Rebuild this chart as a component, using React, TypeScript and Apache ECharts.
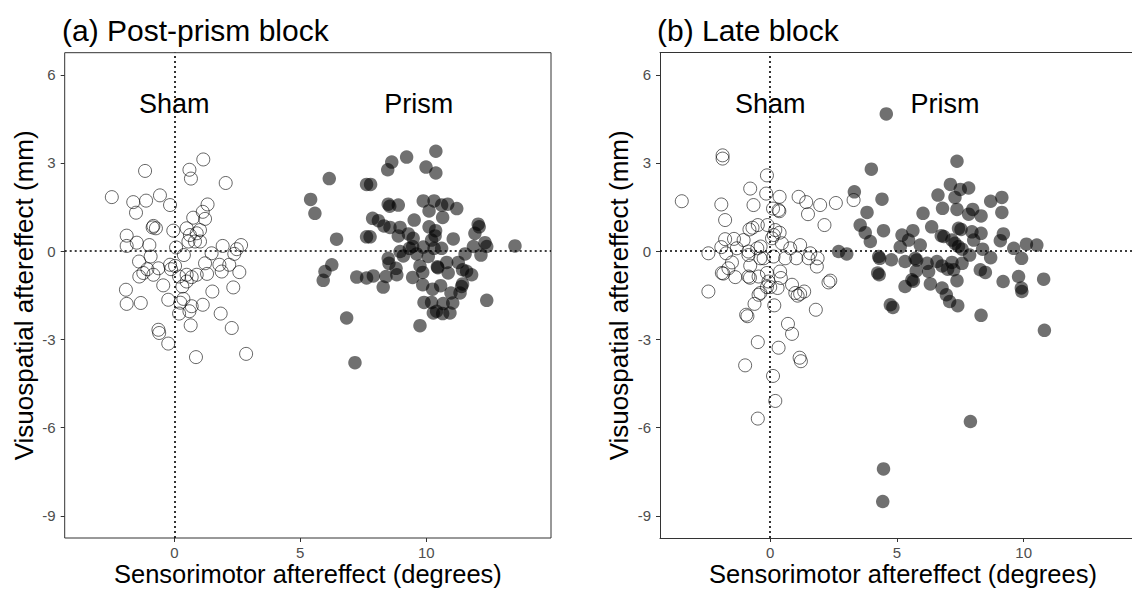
import React, { useEffect, useRef } from "react";
import * as echarts from "echarts";

const FONT = '"Liberation Sans", Arial, Helvetica, sans-serif';

// Panel (a) Post-prism block: [sensorimotor aftereffect (deg), visuospatial aftereffect (mm)]
const shamPost: [number, number][] = [
  [1.15, 3.12], [-1.16, 2.73], [0.6, 2.77], [0.66, 2.47], [2.04, 2.32], [-2.48, 1.84], [-1.63, 1.67],
  [-1.12, 1.72], [-0.57, 1.9], [-0.17, 1.57], [-1.52, 1.31], [1.32, 1.59], [1.13, 1.34], [0.75, 1.14],
  [1.22, 1.1], [-0.83, 0.86], [-0.73, 0.78], [-0.86, 0.81], [-0.04, 0.7], [0.49, 0.78], [1.02, 0.72],
  [0.62, 0.55], [0.89, 0.61], [0.56, 0.33], [0.82, 0.33], [1.02, 0.33], [-1.89, 0.53], [-1.89, 0.18],
  [-1.49, 0.29], [-0.99, 0.21], [0.07, 0.13], [0.38, -0.13], [1.48, -0.07], [1.92, 0.18], [2.65, 0.21],
  [2.48, 0.07], [2.38, -0.09], [-0.94, -0.18], [-1.4, -0.35], [-0.17, -0.46], [0.03, -0.5], [-0.13, -0.61],
  [-0.63, -0.58], [-1.07, -0.61], [-1.23, -0.74], [-1.39, -0.86], [-0.83, -0.8], [0.19, -0.86], [0.49, -0.8],
  [0.69, -0.88], [0.89, -0.8], [1.22, -0.41], [1.3, -0.77], [1.79, -0.46], [1.88, -0.69], [2.18, -0.46],
  [2.58, -0.71], [-0.44, -1.16], [0.32, -1.2], [0.49, -1.03], [-1.92, -1.31], [1.51, -1.37], [2.34, -1.23],
  [-0.24, -1.65], [0.36, -1.62], [0.24, -1.75], [0.69, -1.87], [0.6, -2.04], [-1.89, -1.79], [-1.33, -1.76],
  [1.13, -1.82], [0.19, -2.12], [1.84, -2.12], [0.65, -2.52], [2.28, -2.61], [-0.63, -2.67], [-0.6, -2.78],
  [-0.24, -3.14], [0.86, -3.6], [2.85, -3.49],
];

const prismPost: [number, number][] = [
  [10.38, 3.4], [9.22, 3.2], [8.63, 3.03], [8.47, 2.77], [9.99, 2.86], [10.38, 2.66], [6.15, 2.47],
  [7.63, 2.27], [7.79, 2.27], [5.41, 1.76], [5.58, 1.29], [8.49, 1.6], [8.55, 1.53], [8.89, 1.57],
  [9.88, 1.71], [10.31, 1.71], [10.61, 1.57], [10.85, 1.6], [11.21, 1.45], [10.11, 1.37], [10.65, 1.15],
  [9.52, 1.06], [7.87, 1.12], [8.1, 1.04], [8.32, 0.86], [8.56, 0.81], [8.96, 0.81], [10.11, 0.83],
  [10.37, 0.7], [12.06, 0.92], [12.1, 0.83], [11.93, 0.61], [7.63, 0.49], [7.77, 0.49], [6.44, 0.41],
  [8.89, 0.52], [9.29, 0.59], [9.48, 0.44], [10.21, 0.38], [10.35, 0.52], [11.07, 0.42], [12.33, 0.29],
  [12.4, 0.16], [12.17, -0.13], [11.87, 0.16], [11.54, -0.09], [13.52, 0.18], [8.96, -0.01], [9.33, 0.1],
  [9.46, 0.16], [9.09, -0.16], [9.62, -0.09], [9.88, 0.14], [10.08, -0.18], [10.31, 0.1], [10.61, 0.1],
  [8.49, -0.24], [8.52, -0.41], [8.8, -0.58], [8.83, -0.8], [6.25, -0.46], [5.98, -0.69], [5.91, -0.99],
  [7.24, -0.88], [7.63, -0.91], [7.9, -0.84], [8.4, -0.86], [8.29, -1.22], [9.46, -0.89], [9.75, -0.5],
  [9.86, -0.72], [10.44, -0.53], [10.46, -0.56], [10.81, -0.38], [10.87, -0.74], [11.27, -0.38], [11.44, -0.63],
  [11.6, -0.68], [11.8, -0.8], [11.44, -1.11], [11.4, -1.2], [11.34, -1.42], [9.86, -1.14], [10.25, -1.29],
  [10.57, -1.17], [10.98, -1.42], [12.4, -1.67], [9.91, -1.74], [10.21, -1.74], [10.67, -1.78], [11.05, -1.76],
  [10.28, -2.1], [10.65, -2.12], [10.94, -2.1], [10.41, -2.04], [9.75, -2.53], [6.84, -2.27], [7.17, -3.79],
];

// Panel (b) Late block
const shamLate: [number, number][] = [
  [-1.88, 3.26], [-1.88, 3.15], [-0.13, 2.58], [-0.79, 2.13], [-0.16, 1.96], [0.37, 1.85], [1.12, 1.85],
  [1.42, 1.67], [1.97, 1.57], [2.59, 1.64], [-3.49, 1.7], [-1.93, 1.59], [-0.66, 1.57], [0.11, 1.45],
  [0.33, 1.4], [0.36, 1.36], [1.49, 1.26], [-1.78, 1.06], [-0.11, 0.89], [-0.49, 0.89], [-0.82, 0.74],
  [-0.7, 0.8], [0.2, 0.72], [0.37, 0.63], [0.07, 0.44], [0.14, 0.55], [2.14, 0.89], [-1.78, 0.41],
  [-1.43, 0.42], [-1.05, 0.38], [-1.93, 0.14], [-1.74, -0.07], [-1.32, 0.1], [-0.86, -0.01], [-0.86, -0.13],
  [-0.51, 0.1], [-0.38, 0.16], [0.46, 0.27], [0.79, 0.1], [1.18, 0.21], [-2.44, -0.07], [-0.39, -0.24],
  [-0.26, -0.24], [0.13, -0.18], [0.59, -0.24], [1.03, -0.24], [1.58, -0.07], [1.51, -0.24], [1.87, -0.24],
  [1.84, -0.52], [-1.51, -0.38], [-1.65, -0.58], [-1.91, -0.74], [-1.85, -0.76], [-1.38, -0.88], [-0.79, -0.49],
  [-0.86, -0.86], [-0.8, -0.9], [-0.46, -0.86], [-0.13, -0.74], [0.39, -0.69], [0.42, -0.91], [-0.07, -1.03],
  [0, -1.22], [-0.13, -1.22], [0.29, -1.25], [-0.39, -1.42], [-0.46, -1.48], [0.86, -1.14], [0.99, -1.42],
  [1.18, -1.45], [1.34, -1.37], [1.08, -1.51], [2.37, -1.0], [2.3, -1.06], [-2.44, -1.37], [-0.62, -1.79],
  [0.16, -1.84], [1.8, -1.99], [-0.95, -2.16], [-0.9, -2.21], [0.7, -2.47], [0.86, -2.81], [-0.49, -3.09],
  [0.33, -3.28], [1.16, -3.62], [1.21, -3.74], [-0.99, -3.88], [0.11, -4.24], [0.2, -5.09], [-0.49, -5.69],
  [3.29, 1.74],
];

const prismLate: [number, number][] = [
  [4.58, 4.67], [7.37, 3.06], [3.99, 2.79], [3.32, 2.02], [4.41, 1.77], [7.11, 2.27], [7.5, 2.1],
  [7.83, 2.15], [6.62, 1.91], [7.29, 1.83], [8.7, 1.7], [9.14, 1.83], [3.82, 1.32], [6.03, 1.29],
  [6.8, 1.46], [7.37, 1.42], [7.83, 1.26], [7.99, 1.42], [8.32, 1.2], [9.14, 1.32], [3.55, 0.89],
  [3.75, 0.63], [3.95, 0.33], [4.47, 0.7], [5.2, 0.55], [5.46, 0.38], [5.63, 0.7], [6.37, 0.83],
  [6.75, 0.53], [6.85, 0.5], [7.43, 0.78], [7.53, 0.74], [7.96, 0.66], [8.32, 0.61], [9.2, 0.59],
  [7.17, 0.38], [7.29, 0.27], [8.03, 0.38], [9.08, 0.36], [5.13, 0.14], [5.92, 0.21], [7.43, 0.16],
  [7.57, 0.07], [8.38, 0.07], [9.61, 0.1], [10.11, 0.24], [10.52, 0.21], [2.7, -0.01], [3.02, -0.09],
  [4.28, -0.18], [4.32, -0.24], [4.78, -0.29], [5.32, -0.35], [5.72, -0.24], [5.78, -0.3], [6.19, -0.41],
  [6.58, -0.35], [6.78, -0.5], [7.0, -0.61], [7.24, -0.63], [7.17, -0.38], [7.57, -0.41], [7.87, -0.13],
  [8.7, -0.22], [9.92, -0.24], [5.76, -0.67], [6.25, -0.69], [8.29, -0.63], [8.49, -0.72], [4.24, -0.74],
  [4.3, -0.8], [5.59, -0.97], [5.65, -1.02], [5.32, -1.2], [6.32, -1.11], [6.78, -1.25], [7.37, -1.0],
  [9.19, -1.03], [9.8, -0.86], [9.91, -1.25], [9.93, -1.37], [10.79, -0.95], [6.95, -1.48], [7.08, -1.71],
  [7.4, -1.85], [4.74, -1.82], [4.84, -1.91], [8.32, -2.18], [10.82, -2.69], [7.9, -5.79], [4.47, -7.4],
  [4.44, -8.51],
];

const panelTitles = ["(a) Post-prism block", "(b) Late block"];
const groupLabels = ["Sham", "Prism"];
const labelPositions: [number, number][][] = [
  [[0, 5], [9.7, 5]],
  [[0, 5], [6.9, 5]],
];
const xTicks = [0, 5, 10];
const yTicks = [-9, -6, -3, 0, 3, 6];
const xTitle = "Sensorimotor aftereffect (degrees)";
const yTitle = "Visuospatial aftereffect (mm)";
// visible x range of each panel (panel b is cut off by the picture's right edge)
const xRanges: [number, number][] = [
  [-4.35, 14.95],
  [-4.35, 14.316],
];
const yRange: [number, number] = [-9.75, 6.75];

const FRAME = "#333";

export default function App() {
  const ref = useRef<HTMLDivElement>(null);
  useEffect(() => {
    if (!ref.current) return;
    const chart = echarts.init(ref.current, null, { renderer: "svg" });
    const panels = [
      { sham: shamPost, prism: prismPost },
      { sham: shamLate, prism: prismLate },
    ];
    const grids = [
      { left: 64.7, top: 52.7, width: 486.3, height: 485.3 },
      { left: 660, top: 52.7, width: 473, height: 485.3 },
    ];
    // centres of the x-axis titles (panel b's full width runs past the picture)
    const xTitleCentres = [307.9, 903];
    const series: any[] = [];
    panels.forEach((p, i) => {
      series.push({
        type: "scatter",
        xAxisIndex: i,
        yAxisIndex: i,
        data: [],
        z: 1,
        markLine: {
          silent: true,
          symbol: ["none", "none"],
          label: { show: false },
          lineStyle: { color: "#000", type: [2, 3], width: 1.6 },
          data: [{ xAxis: 0 }, { yAxis: 0 }],
        },
      });
      series.push({
        type: "scatter",
        xAxisIndex: i,
        yAxisIndex: i,
        z: 2,
        symbol: "circle",
        symbolSize: 13,
        data: p.sham,
        itemStyle: { color: "rgba(0,0,0,0)", borderColor: "rgba(0,0,0,0.75)", borderWidth: 1 },
      });
      series.push({
        type: "scatter",
        xAxisIndex: i,
        yAxisIndex: i,
        z: 3,
        symbol: "circle",
        symbolSize: 13.5,
        data: p.prism,
        itemStyle: { color: "rgba(0,0,0,0.7)", borderWidth: 0 },
      });
      series.push({
        type: "scatter",
        xAxisIndex: i,
        yAxisIndex: i,
        z: 4,
        symbolSize: 0,
        data: groupLabels.map((n, k) => ({ name: n, value: labelPositions[i][k] })),
        itemStyle: { color: "rgba(0,0,0,0)" },
        label: {
          show: true,
          position: "inside",
          formatter: "{b}",
          fontSize: 27,
          color: "#000",
          opacity: 1,
          fontFamily: FONT,
        },
      });
    });
    const xAxes: any[] = [0, 1].map((i) => ({
      type: "value",
      gridIndex: i,
      position: "bottom",
      min: xRanges[i][0],
      max: xRanges[i][1],
      splitLine: { show: false },
      axisLine: { show: i === 1, onZero: false, lineStyle: { color: FRAME, width: 1 } },
      axisTick: { show: true, length: 4, lineStyle: { color: FRAME }, customValues: xTicks },
      axisLabel: { customValues: xTicks, fontSize: 15, color: "#4d4d4d", margin: 7, fontFamily: FONT },
    }));
    // top frame line of panel (b), whose right side is beyond the picture
    xAxes.push({
      type: "value",
      gridIndex: 1,
      position: "top",
      min: xRanges[1][0],
      max: xRanges[1][1],
      splitLine: { show: false },
      axisLine: { show: true, onZero: false, lineStyle: { color: FRAME, width: 1 } },
      axisTick: { show: false },
      axisLabel: { show: false },
    });
    chart.setOption({
      animation: false,
      textStyle: { fontFamily: FONT },
      title: panelTitles.map((t, i) => ({
        text: t,
        left: i === 0 ? 62 : 657,
        top: 15,
        padding: 0,
        textStyle: { fontSize: 30, fontWeight: "normal", color: "#000", fontFamily: FONT },
      })),
      graphic: xTitleCentres.map((cx) => ({
        type: "text",
        x: cx,
        y: 587,
        silent: true,
        style: {
          text: xTitle,
          fill: "#000",
          font: `25.5px ${FONT}`,
          align: "center",
          verticalAlign: "bottom",
        },
      })),
      grid: grids.map((g, i) => ({
        ...g,
        show: i === 0,
        containLabel: false,
        outerBoundsMode: "none",
        borderColor: FRAME,
        borderWidth: 1,
        backgroundColor: "transparent",
      })),
      xAxis: xAxes,
      yAxis: [0, 1].map((i) => ({
        type: "value",
        gridIndex: i,
        position: "left",
        min: yRange[0],
        max: yRange[1],
        splitLine: { show: false },
        axisLine: { show: i === 1, onZero: false, lineStyle: { color: FRAME, width: 1 } },
        axisTick: { show: true, length: 4, lineStyle: { color: FRAME }, customValues: yTicks },
        axisLabel: { customValues: yTicks, fontSize: 15, color: "#4d4d4d", margin: 9, fontFamily: FONT },
        name: yTitle,
        nameLocation: "middle",
        nameGap: 28,
        nameTextStyle: { fontSize: 26, color: "#000", fontFamily: FONT },
      })),
      series,
    });
    return () => chart.dispose();
  }, []);
  return (
    <div
      ref={ref}
      style={{ position: "absolute", left: 0, top: 0, width: 1132, height: 590, background: "#fff" }}
    />
  );
}
